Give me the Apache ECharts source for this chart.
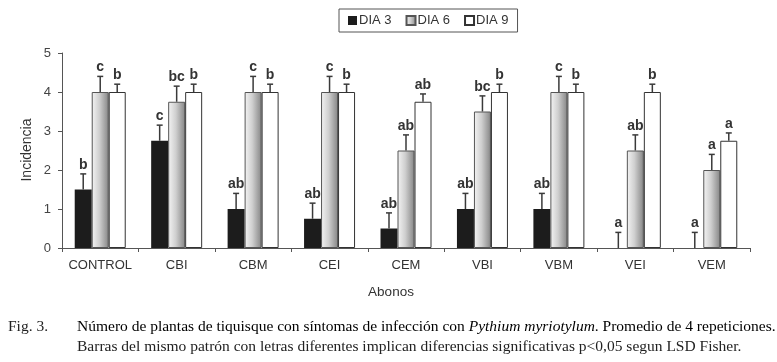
<!DOCTYPE html>
<html>
<head>
<meta charset="utf-8">
<script src="https://cdn.jsdelivr.net/npm/echarts@6/dist/echarts.min.js"></script>
<style>html,body{margin:0;padding:0;background:#fff;}#c{width:777px;height:362px;}</style>
</head>
<body>
<div id="c"></div>
<script>
const categories = ['CONTROL','CBI','CBM','CEI','CEM','VBI','VBM','VEI','VEM'];
const dia3 = [1.5, 2.75, 1, 0.75, 0.5, 1, 1, 0, 0];
const dia6 = [4, 3.75, 4, 4, 2.5, 3.5, 4, 2.5, 2];
const dia9 = [4, 4, 4, 4, 3.75, 4, 4, 4, 2.75];
const err3 = [0.4, 0.4, 0.4, 0.4, 0.4, 0.4, 0.4, 0.4, 0.4];
const err6 = [0.4, 0.4, 0.4, 0.4, 0.4, 0.4, 0.4, 0.4, 0.4];
const err9 = [0.2, 0.2, 0.2, 0.2, 0.2, 0.2, 0.2, 0.2, 0.2];
const letters3 = ['b','c','ab','ab','ab','ab','ab','a','a'];
const letters6 = ['c','bc','c','c','ab','bc','c','ab','a'];
const letters9 = ['b','b','b','b','ab','b','b','b','a'];
const seriesNames = ['DIA 3','DIA 6','DIA 9'];
const yTicks = [0, 1, 2, 3, 4, 5];

const BW = 17;
const letterSets = [letters3, letters6, letters9];
function errSeries(vals, errs, k) {
  const offset = k - 1;
  return {
    type: 'custom',
    name: 'err' + k,
    z: 5,
    data: vals.map((v, i) => [i, v, errs[i]]),
    encode: { x: 0, y: 1 },
    renderItem: function (params, api) {
      const idx = api.value(0);
      const v = api.value(1);
      const e = api.value(2);
      const letter = letterSets[k][idx];
      const p0 = api.coord([idx, v]);
      const p1 = api.coord([idx, v + e]);
      const x = p0[0] + offset * BW;
      return {
        type: 'group',
        children: [
          { type: 'line', shape: { x1: x, y1: p0[1], x2: x, y2: p1[1] }, style: { stroke: '#3a3a3a', lineWidth: 1.5 } },
          { type: 'line', shape: { x1: x - 3, y1: p1[1], x2: x + 3, y2: p1[1] }, style: { stroke: '#3a3a3a', lineWidth: 1.5 } },
          { type: 'text', style: { x: x, y: p1[1] - 2, text: letter, align: 'center', verticalAlign: 'bottom', font: 'bold 14px "Liberation Sans", Arial, sans-serif', fill: '#333' } }
        ]
      };
    }
  };
}

const chart = echarts.init(document.getElementById('c'), null, { renderer: 'canvas' });
chart.setOption({
  animation: false,
  backgroundColor: '#fff',
  textStyle: { fontFamily: '"Liberation Sans", Arial, sans-serif' },
  legend: {
    data: seriesNames,
    left: 339, top: 9,
    orient: 'horizontal',
    itemWidth: 9, itemHeight: 9, itemGap: 14,
    icon: 'rect',
    padding: [5, 9, 5, 9],
    borderColor: '#555', borderWidth: 1,
    textStyle: { fontSize: 13, color: '#333', padding: [0, 0, 0, -3] }
  },
  grid: { left: 62, right: 27, top: 53, bottom: 114, containLabel: false },
  xAxis: {
    type: 'category',
    data: categories,
    axisLine: { lineStyle: { color: '#555', width: 1 } },
    axisTick: { show: true, interval: 0, length: 4, lineStyle: { color: '#555' } },
    axisLabel: { color: '#333', fontSize: 13, margin: 11, interval: 0 },
    splitLine: { show: false }
  },
  yAxis: {
    type: 'value',
    min: yTicks[0], max: yTicks[yTicks.length - 1], interval: 1,
    axisLine: { show: true, lineStyle: { color: '#555', width: 1 } },
    axisTick: { show: true, length: 4, lineStyle: { color: '#555' } },
    axisLabel: { color: '#444', fontSize: 13, margin: 11 },
    splitLine: { show: false }
  },
  series: [
    { type: 'bar', name: 'DIA 3', data: dia3, barWidth: BW, barGap: '0%',
      itemStyle: { color: '#1c1c1c', borderColor: '#1c1c1c', borderWidth: 0 } },
    { type: 'bar', name: 'DIA 6', data: dia6, barWidth: BW, barGap: '0%',
      itemStyle: { color: new echarts.graphic.LinearGradient(0, 0, 1, 0, [
        { offset: 0, color: '#f4f4f4' }, { offset: 0.45, color: '#cfcfcf' }, { offset: 1, color: '#858585' }]),
        borderColor: '#555', borderWidth: 1 } },
    { type: 'bar', name: 'DIA 9', data: dia9, barWidth: BW, barGap: '0%',
      itemStyle: { color: '#ffffff', borderColor: '#333', borderWidth: 1 } },
    errSeries(dia3, err3, 0),
    errSeries(dia6, err6, 1),
    errSeries(dia9, err9, 2)
  ],
  graphic: [
    { type: 'text', x: 27, y: 150, rotation: Math.PI / 2, style: { text: 'Incidencia', font: '14px "Liberation Sans", Arial, sans-serif', fill: '#333', align: 'center', verticalAlign: 'middle' } },
    { type: 'text', x: 391, y: 292, style: { text: 'Abonos', font: '13.5px "Liberation Sans", Arial, sans-serif', fill: '#333', align: 'center', verticalAlign: 'middle' } },
    { type: 'text', x: 8, y: 327, style: { text: 'Fig. 3.', font: '15.5px "Liberation Serif", "Times New Roman", serif', fill: '#222', verticalAlign: 'middle' } },
    { type: 'text', x: 77, y: 327, style: {
      text: '{n|Número de plantas de tiquisque con síntomas de infección con }{i|Pythium myriotylum}{n|. Promedio de 4 repeticiones.}',
      verticalAlign: 'middle',
      rich: {
        n: { fontFamily: '"Liberation Serif", "Times New Roman", serif', fontSize: 15.5, color: '#222' },
        i: { fontFamily: '"Liberation Serif", "Times New Roman", serif', fontSize: 15.5, fontStyle: 'italic', color: '#222' }
      } } },
    { type: 'text', x: 77, y: 347, style: { text: 'Barras del mismo patrón con letras diferentes implican diferencias significativas p<0,05 segun LSD Fisher.', font: '15.5px "Liberation Serif", "Times New Roman", serif', fill: '#222', verticalAlign: 'middle' } }
  ]
});
</script>
</body>
</html>
